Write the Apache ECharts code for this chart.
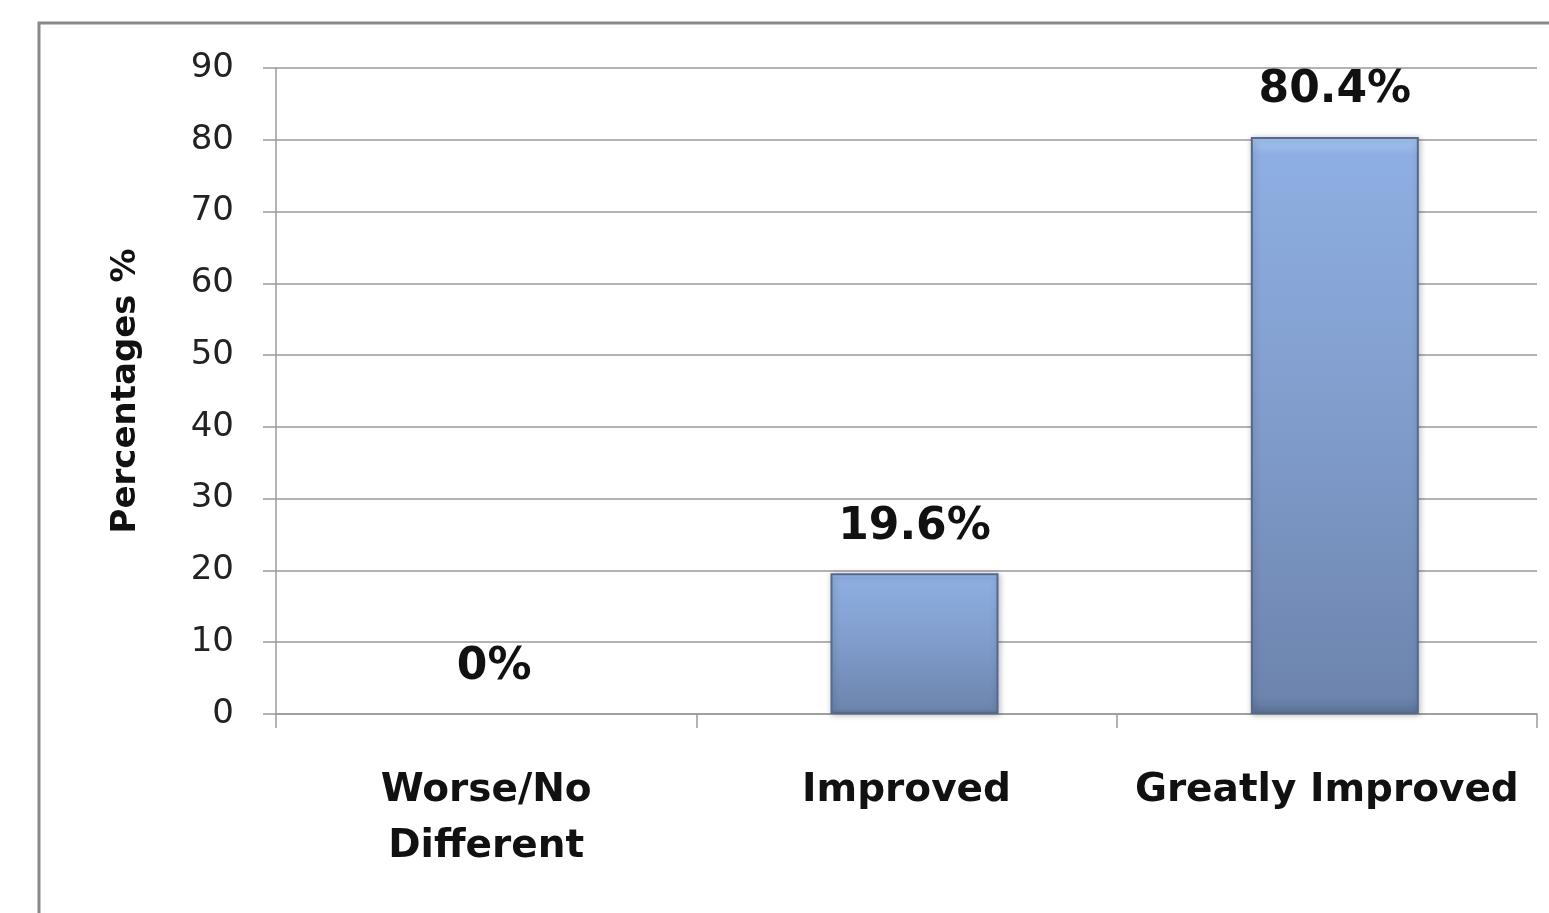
<!DOCTYPE html>
<html><head><meta charset="utf-8">
<script src="https://cdn.jsdelivr.net/npm/echarts@6/dist/echarts.min.js"></script>
<style>html,body{margin:0;padding:0;background:#fff}#c{width:1549px;height:913px}</style>
</head><body><div id="c"></div>
<script>
const categories = ['Worse/No\nDifferent', 'Improved', 'Greatly Improved'];
const values = [0, 19.6, 80.4];
const yTicks = { min: 0, max: 90, interval: 10 };
const yAxisTitle = 'Percentages %';

const chart = echarts.init(document.getElementById('c'), null, { renderer: 'canvas' });
const gridColor = '#9a9a9a';
const barData = values.map(v => ({
  value: v,
  itemStyle: v === 0 ? { color: 'rgba(0,0,0,0)', borderColor: 'rgba(0,0,0,0)', borderWidth: 0, shadowBlur: 0, shadowColor: 'rgba(0,0,0,0)' } : {}
}));
chart.setOption({
  animation: false,
  backgroundColor: '#fff',
  graphic: [{
    type: 'rect', shape: { x: 39, y: 23, width: 1600, height: 1000 },
    style: { fill: 'none', stroke: '#8a8a8a', lineWidth: 3 }, z: -1
  }],
  grid: { left: 276, right: 12, top: 68, bottom: 199 },
  xAxis: {
    type: 'category', data: categories,
    axisLine: { lineStyle: { color: gridColor, width: 1.5 } },
    axisTick: { show: true, length: 14, alignWithLabel: false, lineStyle: { color: gridColor, width: 1.5 } },
    axisLabel: { fontFamily: 'DejaVu Sans', fontWeight: 'bold', fontSize: 39, color: '#111', lineHeight: 56, margin: 49, interval: 0 }
  },
  yAxis: {
    type: 'value', min: yTicks.min, max: yTicks.max, interval: yTicks.interval,
    name: yAxisTitle, nameLocation: 'middle', nameGap: 133, nameRotate: 90,
    nameTextStyle: { fontFamily: 'DejaVu Sans', fontWeight: 'bold', fontSize: 34, color: '#111' },
    axisLine: { show: true, lineStyle: { color: gridColor, width: 1.5 } },
    axisTick: { show: true, length: 13, lineStyle: { color: gridColor, width: 1.5 } },
    axisLabel: { fontFamily: 'DejaVu Sans', fontSize: 34, color: '#222', margin: 42 },
    splitLine: { lineStyle: { color: gridColor, width: 1.5 } }
  },
  series: [{
    type: 'bar', data: values, barWidth: 16, barGap: 0, silent: true,
    itemStyle: { color: 'rgba(0,0,0,0)' }, label: { show: false }
  }, {
    type: 'bar', data: barData, barWidth: 168, barGap: 0,
    itemStyle: {
      color: new echarts.graphic.LinearGradient(0, 0, 0, 1, [
        { offset: 0, color: '#a7c6f0' },
        { offset: 0.03, color: '#8eafe2' },
        { offset: 0.5, color: '#809ccb' },
        { offset: 0.97, color: '#6d85ae' },
        { offset: 1, color: '#5d7398' }
      ]),
      borderColor: '#55698d', borderWidth: 2,
      shadowColor: 'rgba(0,0,0,0.25)', shadowBlur: 6, shadowOffsetX: 1, shadowOffsetY: 1
    },
    label: {
      show: true, position: 'top', distance: 24,
      formatter: p => p.value + '%',
      fontFamily: 'DejaVu Sans', fontWeight: 'bold', fontSize: 44, color: '#111'
    }
  }]
});
</script></body></html>
